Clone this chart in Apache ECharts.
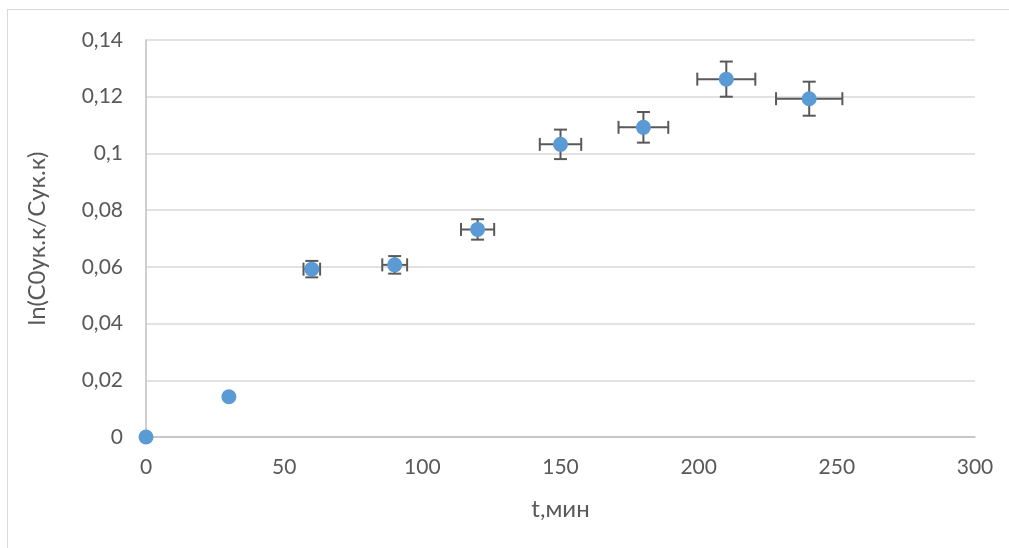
<!DOCTYPE html>
<html>
<head>
<meta charset="utf-8">
<script src="https://cdn.jsdelivr.net/npm/echarts@6/dist/echarts.min.js"></script>
<style>
  html, body { margin: 0; padding: 0; background: #fff; }
  #frame { position: absolute; left: 7px; top: 9px; width: 1010px; height: 550px; border: 1px solid #d9d9d9; }
  #chart { position: absolute; left: 0; top: 0; width: 1009px; height: 548px; }
</style>
</head>
<body>
<div id="frame"></div>
<div id="chart"></div>
<script>
// время, мин
var tMin = [0, 30, 60, 90, 120, 150, 180, 210, 240];
// ln(C0/C)
var lnRatio = [0, 0.0142, 0.0592, 0.0607, 0.0732, 0.1032, 0.1092, 0.1262, 0.1193];
// погрешности (у первых двух точек не видны)
var errX = [0, 0, 3, 4.5, 6, 7.5, 9, 10.5, 12];
var errY = [0, 0, 0.0029, 0.0031, 0.0036, 0.0052, 0.0054, 0.0062, 0.006];

var chart = echarts.init(document.getElementById("chart"));

var fmt = function (v) {
  return String(Number(v.toFixed(2))).replace(".", ",");
};

var pts = tMin.map(function (t, i) { return [t, lnRatio[i]]; });
var errData = tMin.map(function (t, i) { return [t, lnRatio[i], errX[i], errY[i]]; });

// рисуем усы погрешностей
function renderErr(params, api) {
  var x = api.value(0), y = api.value(1), dx = api.value(2), dy = api.value(3);
  if (!dx && !dy) return;
  var l = api.coord([x - dx, y]), r = api.coord([x + dx, y]);
  var t = api.coord([x, y + dy]), b = api.coord([x, y - dy]);
  var cap = 6.5;
  var st = { stroke: "#595959", lineWidth: 2 };
  var line = function (x1, y1, x2, y2) {
    return { type: "line", shape: { x1: x1, y1: y1, x2: x2, y2: y2 }, style: st };
  };
  return {
    type: "group",
    children: [
      line(l[0], l[1], r[0], r[1]),
      line(l[0], l[1] - cap, l[0], l[1] + cap),
      line(r[0], r[1] - cap, r[0], r[1] + cap),
      line(t[0], t[1], b[0], b[1]),
      line(t[0] - cap, t[1], t[0] + cap, t[1]),
      line(b[0] - cap, b[1], b[0] + cap, b[1])
    ]
  };
}

var option = {
  animation: false,
  textStyle: { fontFamily: "Lato, 'Open Sans', sans-serif" },
  grid: { left: 146, right: 34, top: 40, bottom: 111 },
  xAxis: {
    type: "value",
    min: 0, max: 300, interval: 50,
    name: "t,мин",
    nameLocation: "middle",
    nameGap: 60,
    nameTextStyle: { fontSize: 24, color: "#595959" },
    axisLine: { show: true, lineStyle: { color: "#bfbfbf", width: 1.5 } },
    axisTick: { show: false },
    splitLine: { show: false },
    axisLabel: { fontSize: 21, color: "#595959", margin: 20 }
  },
  yAxis: {
    type: "value",
    min: 0, max: 0.14, interval: 0.02,
    name: "ln(C0ук.к/Cук.к)",
    nameLocation: "middle",
    nameRotate: 90,
    nameGap: 97,
    nameTextStyle: { fontSize: 24, color: "#595959" },
    axisLine: { show: true, lineStyle: { color: "#bfbfbf", width: 1.5 } },
    axisTick: { show: false },
    splitLine: { lineStyle: { color: "#d9d9d9", width: 1.5 } },
    axisLabel: { fontSize: 21, color: "#595959", margin: 23, formatter: fmt }
  },
  series: [
    {
      type: "custom",
      renderItem: renderErr,
      data: errData,
      clip: false,
      z: 1
    },
    {
      type: "scatter",
      data: pts,
      symbol: "circle",
      symbolSize: 15,
      itemStyle: { color: "#5b9bd5", opacity: 1 },
      clip: false,
      z: 2
    }
  ]
};

chart.setOption(option);
</script>
</body>
</html>
